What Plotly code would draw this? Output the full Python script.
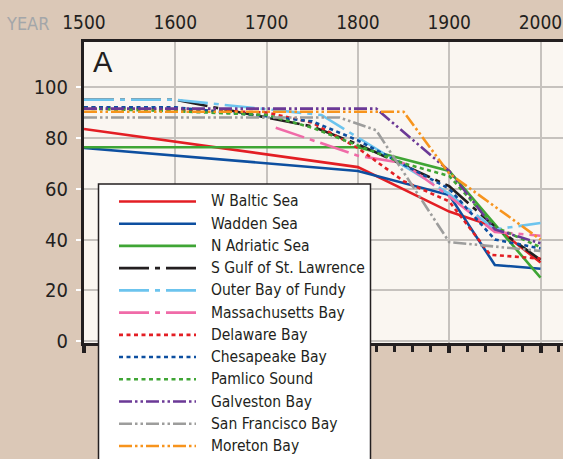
import plotly.graph_objects as go

# ---------------- data ----------------
names = ["W Baltic Sea", "Wadden Sea", "N Adriatic Sea", "S Gulf of St. Lawrence",
         "Outer Bay of Fundy", "Massachusetts Bay", "Delaware Bay", "Chesapeake Bay",
         "Pamlico Sound", "Galveston Bay", "San Francisco Bay", "Moreton Bay"]

baltic_x = [1500, 1800, 1900, 1950, 2000]
baltic_y = [83.5, 68.5, 51, 45, 31]
wadden_x = [1500, 1800, 1900, 1950, 2000]
wadden_y = [76, 67, 57.5, 30, 28.5]
adriatic_x = [1500, 1800, 1900, 2000]
adriatic_y = [76.3, 76.3, 67, 25]
gulf_x = [1500, 1600, 1700, 1750, 1800, 1900, 1950, 2000]
gulf_y = [95, 95, 88, 84.5, 77.5, 61, 45, 32]
fundy_x = [1500, 1600, 1760, 1900, 1950, 2000]
fundy_y = [95, 95, 89, 58, 44, 46.5]
mass_x = [1710, 1800, 1850, 1900, 1950, 2000]
mass_y = [84, 73, 70, 57, 43, 41.5]
delaware_x = [1500, 1700, 1750, 1800, 1850, 1900, 1945, 2000]
delaware_y = [92, 90, 86, 76, 63, 55, 34, 32.5]
chesapeake_x = [1500, 1600, 1700, 1750, 1800, 1900, 1950, 2000]
chesapeake_y = [92, 92, 88.5, 86.5, 79, 60, 40, 36.5]
pamlico_x = [1500, 1600, 1700, 1750, 1800, 1850, 1900, 1950, 2000]
pamlico_y = [91.5, 90.5, 89, 84, 77, 70, 65, 45, 37]
galveston_x = [1500, 1820, 1900, 1950, 2000]
galveston_y = [91.5, 91.5, 67, 44, 38.5]
sf_x = [1500, 1780, 1820, 1900, 2000]
sf_y = [88, 88, 83, 39, 35.5]
moreton_x = [1500, 1850, 1900, 1950, 2000]
moreton_y = [90.3, 90.3, 66, 53, 40]

year_ticks = [1500, 1600, 1700, 1800, 1900, 2000]
value_ticks = [0, 20, 40, 60, 80, 100]

# ---------------- styles ----------------
RED, BLUE, GREEN, BLACK = "#e31e24", "#0d4fa0", "#3fa535", "#231f20"
CYAN, PINK, PURPLE, GRAY, ORANGE = "#6cc4ee", "#f06ba8", "#6b3996", "#9d9d9c", "#f7941d"
DASHDOT = "30px,6px,5px,6px"
DOT = "4px,3.5px"
DASHDOTDOT = "13px,3px,2.5px,3px,2.5px,3px"

series = [
    (baltic_x, baltic_y, RED, "solid"),
    (wadden_x, wadden_y, BLUE, "solid"),
    (adriatic_x, adriatic_y, GREEN, "solid"),
    (gulf_x, gulf_y, BLACK, DASHDOT),
    (fundy_x, fundy_y, CYAN, DASHDOT),
    (mass_x, mass_y, PINK, DASHDOT),
    (delaware_x, delaware_y, RED, DOT),
    (chesapeake_x, chesapeake_y, BLUE, DOT),
    (pamlico_x, pamlico_y, GREEN, DOT),
    (galveston_x, galveston_y, PURPLE, DASHDOTDOT),
    (sf_x, sf_y, GRAY, DASHDOTDOT),
    (moreton_x, moreton_y, ORANGE, DASHDOTDOT),
]

COND = "DejaVu Sans Condensed, DejaVu Sans, sans-serif"
TAN = "#dbc8b7"
PLOTBG = "#faf6f1"
GRID = "#c6c2be"

W, H = 563, 459
L, R, T, B = 84, 0, 41.5, 115.5
PW, PH = W - L - R, H - T - B
x_end = 1500 + PW / 91.3 * 100
y_lo = -(343.5 - 341.7) / 2.55
y_hi = y_lo + PH / 2.55


def px_x(px):
    return (px - L) / PW


def px_y(py):
    return (H - B - py) / PH


fig = go.Figure()
for (xs, ys, col, dash), nm in zip(series, names):
    fig.add_trace(go.Scatter(x=xs, y=ys, mode="lines", name=nm, showlegend=False,
                             line=dict(color=col, width=2.6, dash=dash)))

# invisible trace on the bottom axis so it renders
fig.add_trace(go.Scatter(x=[1500], y=[None], xaxis="x2", showlegend=False,
                         hoverinfo="skip", mode="lines"))

# ---------------- custom legend ----------------
shapes = [dict(type="rect", xref="paper", yref="paper",
               x0=px_x(98.5), x1=px_x(370.5), y0=px_y(490), y1=px_y(184),
               line=dict(color=BLACK, width=1.5), fillcolor="white", layer="above")]
annotations = []
for i, ((xs, ys, col, dash), nm) in enumerate(zip(series, names)):
    cy = 201.5 + 22.3 * i
    shapes.append(dict(type="line", xref="paper", yref="paper",
                       x0=px_x(119), x1=px_x(196), y0=px_y(cy), y1=px_y(cy),
                       line=dict(color=col, width=2.6, dash=dash), layer="above"))
    annotations.append(dict(xref="paper", yref="paper", x=px_x(209), y=px_y(cy),
                            xanchor="left", yanchor="middle", text=nm, showarrow=False,
                            font=dict(family=COND, size=15.5, color=BLACK)))

annotations.append(dict(xref="paper", yref="paper", x=px_x(27.5), y=px_y(22.5),
                        xanchor="center", yanchor="middle", text="YEAR", showarrow=False,
                        font=dict(family=COND, size=18, color="#a3a6a9")))
annotations.append(dict(xref="paper", yref="paper", x=px_x(91), y=px_y(62),
                        xanchor="left", yanchor="middle", text="A", showarrow=False,
                        font=dict(family="Liberation Sans, Arial, sans-serif", size=29,
                                  color=BLACK)))

fig.update_layout(
    width=W, height=H,
    margin=dict(l=L, r=R, t=T, b=B, pad=0),
    paper_bgcolor=TAN, plot_bgcolor=PLOTBG,
    showlegend=False,
    shapes=shapes, annotations=annotations,
    xaxis=dict(side="top", range=[1500, x_end], tickvals=year_ticks,
               ticks="", showgrid=True, gridcolor=GRID, gridwidth=2,
               showline=True, linecolor=BLACK, linewidth=3, zeroline=False,
               tickfont=dict(family=COND, size=19, color=BLACK), ticklabelstandoff=2),
    xaxis2=dict(overlaying="x", side="bottom", range=[1500, x_end], tickvals=year_ticks,
                ticks="outside", ticklen=7, tickwidth=3.5, tickcolor=BLACK,
                minor=dict(ticks="outside", dtick=20, tick0=1500, ticklen=6,
                           tickwidth=2.5, tickcolor=BLACK, showgrid=False),
                showticklabels=False, showgrid=False, zeroline=False,
                showline=True, linecolor=BLACK, linewidth=3),
    yaxis=dict(range=[y_lo, y_hi], tickvals=value_ticks, ticks="outside", ticklen=5,
               tickwidth=2, tickcolor="white", showgrid=True, gridcolor=GRID, gridwidth=2,
               showline=True, linecolor=BLACK, linewidth=3, zeroline=False,
               tickfont=dict(family=COND, size=20, color=BLACK), ticklabelstandoff=4),
)

fig.write_html("out.html", config={"displayModeBar": False},
               post_script="document.body.style.margin='0';"
                           "document.body.style.background='" + TAN + "';")
